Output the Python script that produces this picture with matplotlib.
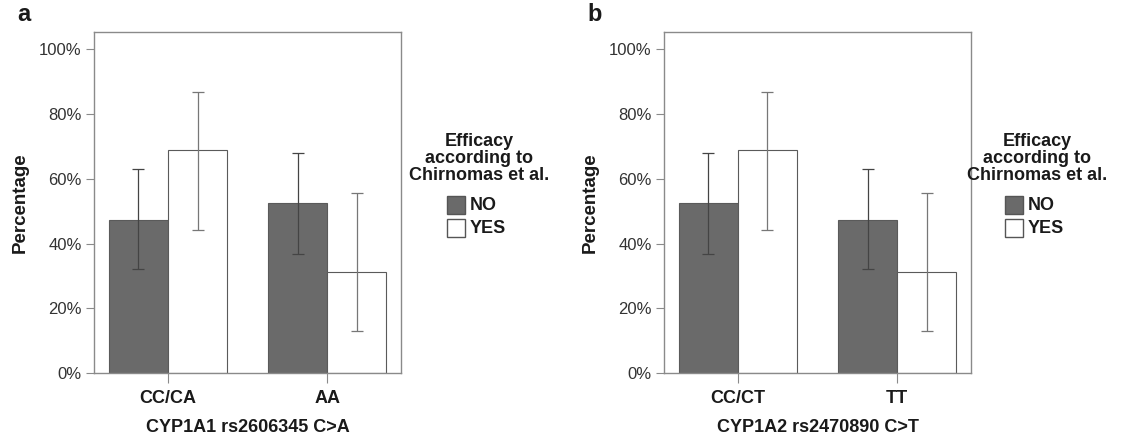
import matplotlib.pyplot as plt
import numpy as np

plt.rcParams['font.family'] = ['Liberation Sans', 'DejaVu Sans']

# Genotype groups and efficacy percentages (NO / YES) with 95% CI bounds
genes_a = ['CC/CA', 'AA']
no_a = [47.4, 52.6]
no_a_lo = [32.1, 36.9]
no_a_hi = [62.9, 67.9]
yes_a = [68.8, 31.2]
yes_a_lo = [44.3, 12.9]
yes_a_hi = [87.0, 55.7]

genes_b = ['CC/CT', 'TT']
no_b = [52.6, 47.4]
no_b_lo = [36.9, 32.1]
no_b_hi = [67.9, 62.9]
yes_b = [68.8, 31.2]
yes_b_lo = [44.3, 12.9]
yes_b_hi = [87.0, 55.7]

xlabels = ['CYP1A1 rs2606345 C>A', 'CYP1A2 rs2470890 C>T']
panel_tags = ['a', 'b']

dark = '#6a6a6a'
edge = '#5a5a5a'
spine = '#8a8a8a'
txt = '#1a1a1a'

fig = plt.figure(figsize=(11.26, 4.4), dpi=100)


def draw_panel(left, genes, no, no_lo, no_hi, yes, yes_lo, yes_hi, xlab, tag, leg_x):
    ax = fig.add_axes([left, 0.1523, 0.2727, 0.775])
    x = np.arange(len(genes))
    w = 0.371
    ax.bar(x - w / 2, no, width=w, color=dark, edgecolor=edge, linewidth=0.8)
    ax.bar(x + w / 2, yes, width=w, color='white', edgecolor=edge, linewidth=0.8)
    no_err = [np.array(no) - np.array(no_lo), np.array(no_hi) - np.array(no)]
    yes_err = [np.array(yes) - np.array(yes_lo), np.array(yes_hi) - np.array(yes)]
    ax.errorbar(x - w / 2, no, yerr=no_err, fmt='none', ecolor='#444444',
                elinewidth=0.9, capsize=4, capthick=0.9)
    ax.errorbar(x + w / 2, yes, yerr=yes_err, fmt='none', ecolor='#777777',
                elinewidth=0.9, capsize=4, capthick=0.9)
    ax.set_xlim(-0.465, 1.465)
    ax.set_ylim(0, 105.4)
    ax.set_yticks(np.arange(0, 101, 20))
    ax.set_yticklabels([f'{v}%' for v in range(0, 101, 20)])
    ax.set_xticks(x)
    ax.set_xticklabels(genes, fontweight='bold')
    for s in ax.spines.values():
        s.set_color(spine)
        s.set_linewidth(1.0)
    ax.tick_params(axis='y', length=6, color=spine, labelsize=12, labelcolor='#333333', pad=3)
    ax.tick_params(axis='x', length=7, color=spine, labelsize=13, labelcolor=txt, pad=5)
    ax.set_ylabel('Percentage', fontsize=13.5, fontweight='bold', color=txt, labelpad=7)
    ax.set_xlabel(xlab, fontsize=13, fontweight='bold', color=txt, labelpad=9)

    fig.text(left - 0.068, 0.94, tag, fontsize=17, fontweight='bold', color=txt,
             ha='left', va='bottom')

    # legend block
    fig.text(leg_x, 1 - 158 / 440, 'Efficacy\naccording to\nChirnomas et al.',
             ha='center', va='center', fontsize=13, fontweight='bold', color=txt,
             linespacing=1.0)
    for i, (lab, fc) in enumerate([('NO', dark), ('YES', 'white')]):
        yc = 1 - (205 + 23 * i) / 440
        bx = leg_x - 32 / 1126
        fig.patches.append(plt.Rectangle((bx, yc - 9 / 440), 18 / 1126, 18 / 440,
                                         transform=fig.transFigure, facecolor=fc,
                                         edgecolor='#555555', linewidth=1.0))
        fig.text(bx + 23 / 1126, yc, lab, ha='left', va='center', fontsize=13,
                 fontweight='bold', color=txt)
    return ax


draw_panel(0.0835, genes_a, no_a, no_a_lo, no_a_hi, yes_a, yes_a_lo, yes_a_hi,
           xlabels[0], panel_tags[0], 479 / 1126)
draw_panel(0.5897, genes_b, no_b, no_b_lo, no_b_hi, yes_b, yes_b_lo, yes_b_hi,
           xlabels[1], panel_tags[1], 1037 / 1126)

fig.savefig('out.png', dpi=100, facecolor='white')
